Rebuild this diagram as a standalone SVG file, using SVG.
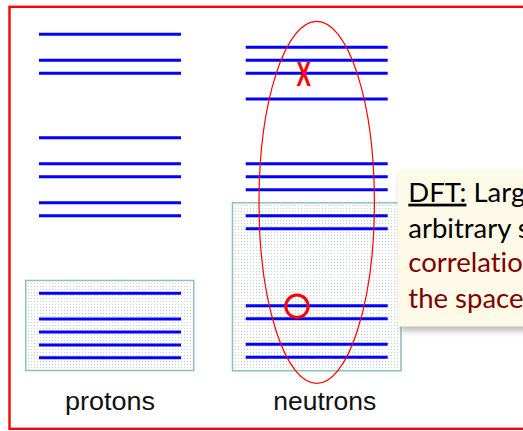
<svg xmlns="http://www.w3.org/2000/svg" width="523" height="431" viewBox="0 0 523 431">
<style>
.lv{stroke:#0000ff;stroke-width:3;fill:none}
.box{fill:url(#dots);stroke:#8fbfbf;stroke-width:1.5}
.lbl{font-family:"Liberation Sans",Arial,sans-serif;font-size:25px;fill:#111}
.ct{font-family:Lato,"Open Sans",sans-serif;font-size:27.5px;font-variant-ligatures:none}
</style>
<defs>
<pattern id="dots" width="3" height="3" patternUnits="userSpaceOnUse">
<rect width="3" height="3" fill="#ffffff"/>
<rect x="1" y="1" width="1" height="1" fill="#bcd6d6"/>
</pattern>
<filter id="sh" x="-10%" y="-10%" width="130%" height="130%">
<feGaussianBlur stdDeviation="3"/>
</filter>
</defs>
<rect x="9.5" y="6.8" width="600" height="422" fill="#ffffff" stroke="#ff0000" stroke-width="2.4"/>
<g id="protons">
<rect class="box" x="25.7" y="280.5" width="168" height="90"/>
<line class="lv" x1="39" y1="34.3" x2="181" y2="34.3"/>
<line class="lv" x1="39" y1="60.3" x2="181" y2="60.3"/>
<line class="lv" x1="39" y1="73.3" x2="181" y2="73.3"/>
<line class="lv" x1="39" y1="137.7" x2="181" y2="137.7"/>
<line class="lv" x1="39" y1="163.7" x2="181" y2="163.7"/>
<line class="lv" x1="39" y1="176.7" x2="181" y2="176.7"/>
<line class="lv" x1="39" y1="202.7" x2="181" y2="202.7"/>
<line class="lv" x1="39" y1="215.7" x2="181" y2="215.7"/>
<line class="lv" x1="39" y1="293.3" x2="181" y2="293.3"/>
<line class="lv" x1="39" y1="319" x2="181" y2="319"/>
<line class="lv" x1="39" y1="332" x2="181" y2="332"/>
<line class="lv" x1="39" y1="345" x2="181" y2="345"/>
<line class="lv" x1="39" y1="357.7" x2="181" y2="357.7"/>
<text class="lbl" x="65" y="410" textLength="90" lengthAdjust="spacingAndGlyphs">protons</text>
</g>
<g id="neutrons">
<rect class="box" x="232.5" y="202.8" width="168.5" height="168"/>
<line class="lv" x1="245.7" y1="47.3" x2="387.7" y2="47.3"/>
<line class="lv" x1="245.7" y1="60.3" x2="387.7" y2="60.3"/>
<line class="lv" x1="245.7" y1="73.3" x2="387.7" y2="73.3"/>
<line class="lv" x1="245.7" y1="99" x2="387.7" y2="99"/>
<line class="lv" x1="245.7" y1="163.7" x2="387.7" y2="163.7"/>
<line class="lv" x1="245.7" y1="176.7" x2="387.7" y2="176.7"/>
<line class="lv" x1="245.7" y1="189.7" x2="387.7" y2="189.7"/>
<line class="lv" x1="245.7" y1="215.7" x2="387.7" y2="215.7"/>
<line class="lv" x1="245.7" y1="228.7" x2="387.7" y2="228.7"/>
<line class="lv" x1="245.7" y1="305.7" x2="387.7" y2="305.7"/>
<line class="lv" x1="245.7" y1="318.7" x2="387.7" y2="318.7"/>
<line class="lv" x1="245.7" y1="344.3" x2="387.7" y2="344.3"/>
<line class="lv" x1="245.7" y1="357.3" x2="387.7" y2="357.3"/>
<text class="lbl" x="273.3" y="409.5" textLength="103" lengthAdjust="spacingAndGlyphs">neutrons</text>
</g>
<g id="marks">
<ellipse cx="316.7" cy="202.3" rx="57.7" ry="181" fill="none" stroke="#ff0000" stroke-width="1.2"/>
<circle cx="297" cy="306.3" r="11.2" fill="none" stroke="#ff0000" stroke-width="3"/>
<text x="489.8" y="86" transform="scale(0.62,1)" text-anchor="middle" font-family="Liberation Sans,Arial,sans-serif" font-size="35" font-weight="bold" fill="#ff0000">X</text>
</g>
<g id="callout">
<rect x="400" y="174" width="140" height="157" fill="#666" opacity="0.45" filter="url(#sh)"/>
<rect x="397.5" y="169.5" width="140" height="157" fill="#fdfbe7"/>
<text class="ct" x="408.3" y="201.7" fill="#000"><tspan text-decoration="underline">DFT:</tspan> Larg</text>
<text class="ct" x="408.3" y="237.5" fill="#000">arbitrary s</text>
<text class="ct" x="408.3" y="272" fill="#800000">correlatio</text>
<text class="ct" x="408.3" y="307.5" fill="#800000">the space</text>
</g>
</svg>
